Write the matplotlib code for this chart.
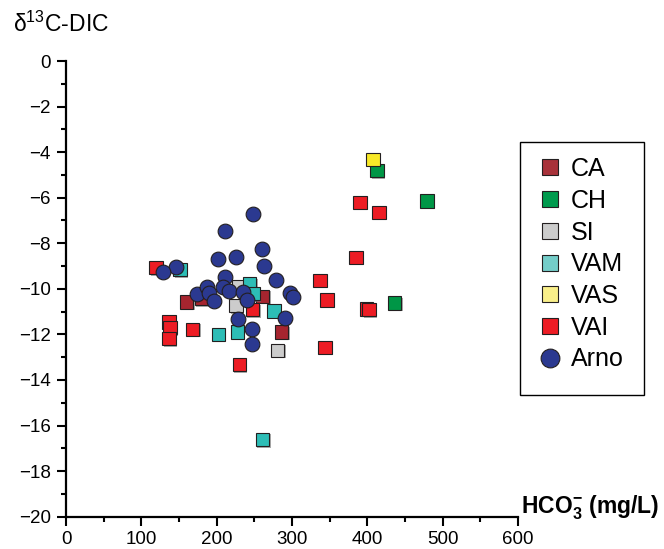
import matplotlib
matplotlib.use("Agg")
import matplotlib.pyplot as plt
import matplotlib.patheffects as pe
from matplotlib.patches import Rectangle
from matplotlib.ticker import MultipleLocator

plt.rcParams['font.family'] = ['Liberation Sans', 'DejaVu Sans']
plt.rcParams['mathtext.fontset'] = 'custom'
plt.rcParams['mathtext.rm'] = 'Liberation Sans'
plt.rcParams['mathtext.bf'] = 'Liberation Sans:bold'
plt.rcParams['mathtext.it'] = 'Liberation Sans:italic'

# ---- data ----
ca_x = [160.2, 180.1, 261.0, 286.3]
ca_y = [-10.58, -10.43, -10.33, -11.90]

ch_x = [412.8, 479.2, 436.3]
ch_y = [-4.82, -6.15, -10.62]

si_x = [229.6, 225.7, 281.0]
si_y = [-9.89, -10.73, -12.70]

vam_x = [151.3, 243.6, 248.2, 276.1, 227.3, 202.2, 261.0]
vam_y = [-9.16, -9.78, -10.21, -10.97, -11.90, -12.00, -16.62]

vas_x = [407.5]
vas_y = [-4.31]

vai_x = [119.5, 136.7, 138.0, 136.7, 168.2, 247.8, 230.0, 337.2, 346.4,
         399.1, 402.2, 343.8, 384.9, 390.3, 415.5]
vai_y = [-9.07, -11.45, -11.70, -12.18, -11.78, -10.92, -13.32, -9.63, -10.49,
         -10.89, -10.91, -12.56, -8.62, -6.20, -6.64]

arno_x = [248.6, 210.6, 259.7, 202.2, 225.7, 263.3, 145.6, 128.4, 278.8, 210.6,
          297.3, 301.3, 173.5, 186.8, 190.2, 196.5, 208.0, 216.8, 235.4, 239.9,
          228.7, 246.5, 246.5, 291.1]
arno_y = [-6.73, -7.46, -8.23, -8.70, -8.60, -9.01, -9.04, -9.26, -9.60, -9.48,
          -10.18, -10.36, -10.21, -9.92, -10.17, -10.55, -9.92, -10.11, -10.14, -10.51,
          -11.31, -11.75, -12.42, -11.28]

series = [
    ("CA", ca_x, ca_y, 's', '#A6252F', '#A8323A'),
    ("CH", ch_x, ch_y, 's', '#009646', '#009B4E'),
    ("SI", si_x, si_y, 's', '#CCCCCC', '#CCCCCC'),
    ("VAM", vam_x, vam_y, 's', '#2DBDB6', '#74CDC9'),
    ("VAS", vas_x, vas_y, 's', '#F8E928', '#F9EF8A'),
    ("VAI", vai_x, vai_y, 's', '#ED1C24', '#ED1C24'),
    ("Arno", arno_x, arno_y, 'o', '#2B3990', '#2B3990'),
]

W, H = 664, 549
fig = plt.figure(figsize=(W/100, H/100), dpi=100)
ax = fig.add_axes([66/W, 1-516.7/H, (518-66)/W, (516.7-61)/H])

shadow = [pe.SimplePatchShadow(offset=(1.0, -1.0), shadow_rgbFace='0.45', alpha=0.6), pe.Normal()]

for i, (name, xs, ys, mk, col, lcol) in enumerate(series):
    ms = 9.6 if mk == 's' else 10.6
    ax.plot(xs, ys, linestyle='none', marker=mk, markersize=ms,
            markerfacecolor=col, markeredgecolor='#231F20', markeredgewidth=0.8,
            label=name, zorder=3 + i,
            path_effects=shadow if mk == 's' else None)

ax.set_xlim(0, 600)
ax.set_ylim(-20, 0)
ax.spines['top'].set_visible(False)
ax.spines['right'].set_visible(False)
for s in ('left', 'bottom'):
    ax.spines[s].set_linewidth(1.6)
ax.xaxis.set_major_locator(MultipleLocator(100))
ax.xaxis.set_minor_locator(MultipleLocator(50))
ax.yaxis.set_major_locator(MultipleLocator(2))
ax.yaxis.set_minor_locator(MultipleLocator(1))
ax.tick_params(which='major', direction='out', length=6.5, width=1.5, labelsize=13.5, pad=4.5)
ax.tick_params(axis='x', which='major', pad=3.5)
ax.tick_params(which='minor', direction='out', length=3.6, width=1.5)

fig.text(13/W, 1-32/H, 'δ$^{13}$C-DIC', fontsize=16.5, ha='left', va='baseline')
fig.text(521/W, 1-513/H, r'$\mathbf{HCO_3^{-}\ (mg/L)}$', fontsize=16.5, ha='left', va='baseline')

leg = ax.legend(loc='upper left', bbox_to_anchor=(537.5/W, 1-157/H),
                bbox_transform=fig.transFigure, borderaxespad=0,
                fontsize=18, frameon=False,
                handlelength=1.0, handletextpad=0.34, borderpad=0.0,
                labelspacing=0.31, numpoints=1)
for h, (name, xs, ys, mk, col, lcol) in zip(leg.legend_handles, series):
    h.set_markerfacecolor(lcol)
    h.set_path_effects([])
    h.set_markersize(11.3 if mk == 's' else 13.5)

fig.patches.append(Rectangle((520/W, 1-395/H), (644-520)/W, (395-142)/H,
                             transform=fig.transFigure, fill=False,
                             edgecolor='black', linewidth=1.0))

fig.savefig('out.png', dpi=100)
